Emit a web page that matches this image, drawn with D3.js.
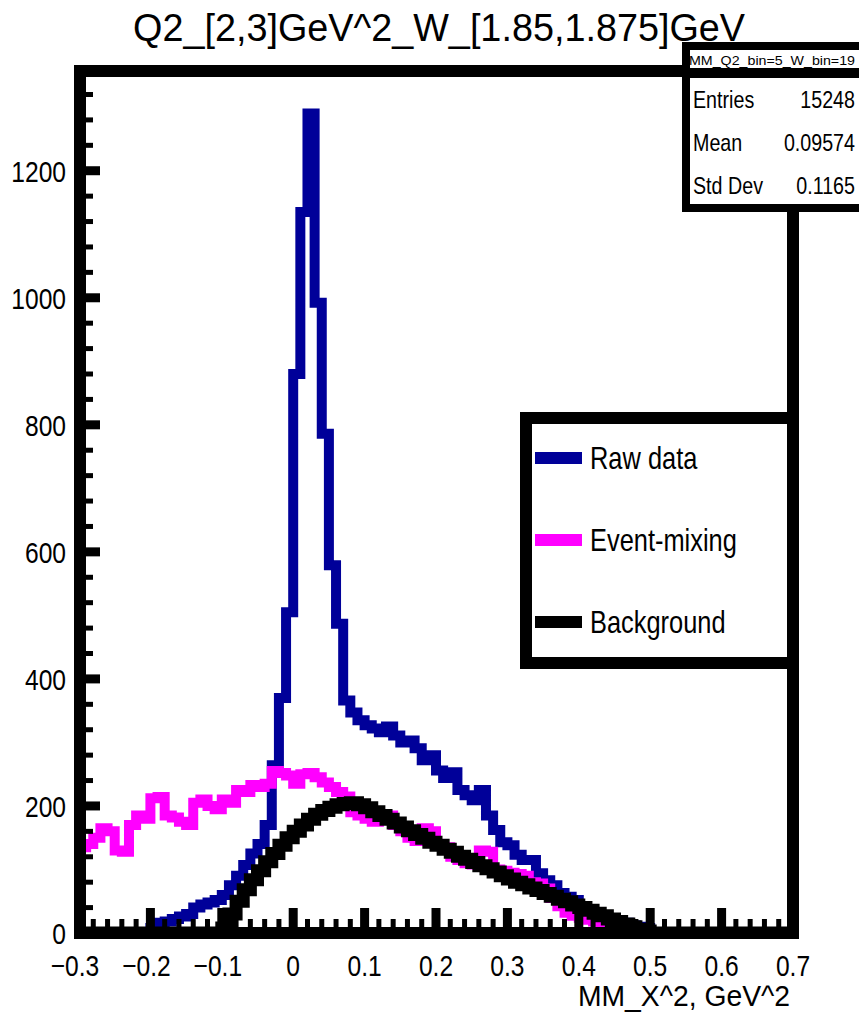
<!DOCTYPE html>
<html>
<head>
<meta charset="utf-8">
<script src="https://cdn.jsdelivr.net/npm/d3@7"></script>
<style>
  body { margin: 0; background: #fff; }
  svg { display: block; }
  text { font-family: "Liberation Sans", Arial, sans-serif; fill: #000; }
</style>
</head>
<body>
<div id="chart"></div>
<script>
// histogram binning: 100 bins of 0.01 from -0.3 to 0.7
const binLow = -0.3;
const binWidth = 0.01;

// Raw data (blue)
const rawData = [
  0, 0, 0, 0, 0, 0, 0, 0, 0, 0,
  8, 16, 18, 22, 26, 30, 40, 45, 48, 52,
  60, 75, 90, 107, 125, 140, 170, 264, 370, 505,
  880, 1135, 1290, 992, 786, 579, 487, 366, 347, 335,
  327, 322, 316, 325, 311, 300, 303, 291, 272, 280,
  256, 244, 253, 225, 217, 209, 225, 185, 162, 143,
  138, 123, 115, 115, 94, 83, 75, 63, 57, 52,
  42, 36, 31, 27, 22, 19, 16, 12, 10, 8,
  0, 0, 0, 0, 0, 0, 0, 0, 0, 0,
  0, 0, 0, 0, 0, 0, 0, 0, 0, 0
];

// Event-mixing (magenta)
const eventMixing = [
  135, 140, 150, 165, 160, 130, 128, 170, 185, 180,
  212, 214, 185, 182, 175, 170, 205, 210, 200, 195,
  210, 205, 225, 222, 233, 230, 235, 255, 252, 248,
  235, 250, 252, 245, 237, 230, 222, 215, 190, 185,
  180, 175, 182, 185, 170, 160, 150, 145, 165, 160,
  140, 135, 120, 115, 110, 108, 130, 128, 100, 98,
  95, 93, 90, 80, 78, 70, 55, 42, 32, 27,
  24, 21, 18, 15, 12, 10, 8, 6, 5, 4,
  1, 1, 1, 1, 1, 1, 1, 1, 1, 1,
  1, 1, 1, 1, 1, 1, 1, 1, 1, 1
];

// Background (black)
const background = [
  0, 0, 0, 0, 0, 0, 0, 0, 0, 0,
  0, 0, 0, 0, 0, 0, 0, 0, 0, 0,
  8, 30, 50, 68, 84, 98, 112, 125, 138, 150,
  160, 170, 179, 187, 193, 198, 202, 204, 205, 202,
  197, 191, 185, 179, 173, 167, 161, 155, 149, 143,
  138, 132, 127, 121, 116, 111, 106, 101, 96, 90,
  85, 80, 76, 71, 67, 62, 58, 53, 49, 44,
  40, 36, 31, 27, 22, 18, 14, 10, 6, 3,
  0, 0, 0, 0, 0, 0, 0, 0, 0, 0,
  0, 0, 0, 0, 0, 0, 0, 0, 0, 0
];

const xTicks = [-0.3, -0.2, -0.1, 0, 0.1, 0.2, 0.3, 0.4, 0.5, 0.6, 0.7];
const yTicks = [0, 200, 400, 600, 800, 1000, 1200];

const titleText = "Q2_[2,3]GeV^2_W_[1.85,1.875]GeV";
const xTitle = "MM_X^2, GeV^2";
const statsName = "MM_Q2_bin=5_W_bin=19";
const statsLabels = ["Entries", "Mean", "Std Dev"];
const statsValues = ["15248", "0.09574", "0.1165"];
const legendLabels = ["Raw data", "Event-mixing", "Background"];
const legendColors = ["#000099", "#ff00ff", "#000000"];

const W = 859, H = 1013;
const frame = { left: 80, right: 793, top: 71, bottom: 933 };
const narrow = 0.82; // the reference text is drawn in a condensed face

const svg = d3.select("#chart").append("svg")
  .attr("width", W).attr("height", H);

const x = d3.scaleLinear().domain([-0.3, 0.7]).range([frame.left - 1, frame.right]);
const y = d3.scaleLinear().domain([0, 1357]).range([frame.bottom, frame.top]);

// condensed text helper
function ctext(parent, tx, ty, str, size, anchor) {
  return parent.append("text")
    .attr("transform", `translate(${tx},${ty}) scale(${narrow},1)`)
    .attr("text-anchor", anchor || "start")
    .attr("font-size", size)
    .text(str);
}

svg.append("clipPath").attr("id", "plotclip")
  .append("rect")
  .attr("x", frame.left).attr("y", frame.top)
  .attr("width", frame.right - frame.left).attr("height", frame.bottom - frame.top + 4);

// histogram outline points
function histPoints(vals) {
  const pts = [];
  vals.forEach((v, i) => {
    const a = binLow + i * binWidth;
    pts.push([a, v], [a + binWidth, v]);
  });
  return pts;
}
const histLine = d3.line().x(d => x(d[0])).y(d => y(d[1]));

const plot = svg.append("g").attr("clip-path", "url(#plotclip)");
[[rawData, legendColors[0], 10], [eventMixing, legendColors[1], 10], [background, legendColors[2], 13]]
  .forEach(([vals, col, w]) => {
    plot.append("path")
      .attr("d", histLine(histPoints(vals)))
      .attr("fill", "none")
      .attr("stroke", col)
      .attr("stroke-width", w)
      .attr("stroke-linejoin", "miter");
  });

// frame
svg.append("rect")
  .attr("x", frame.left).attr("y", frame.top)
  .attr("width", frame.right - frame.left).attr("height", frame.bottom - frame.top)
  .attr("fill", "none").attr("stroke", "#000").attr("stroke-width", 12);

// x ticks (major 0.1, minor 0.02), drawn inside from bottom
const xMinor = d3.range(0, 51).map(i => -0.3 + i * 0.02);
svg.append("g").selectAll("line").data(xMinor).join("line")
  .attr("x1", d => x(d)).attr("x2", d => x(d))
  .attr("y1", frame.bottom).attr("y2", frame.bottom - 14)
  .attr("stroke", "#000").attr("stroke-width", 5);
svg.append("g").selectAll("line").data(xTicks).join("line")
  .attr("x1", d => x(d)).attr("x2", d => x(d))
  .attr("y1", frame.bottom).attr("y2", frame.bottom - 25)
  .attr("stroke", "#000").attr("stroke-width", 9);

// y ticks (major 200, minor 40)
const yMinor = d3.range(0, 34).map(i => i * 40);
svg.append("g").selectAll("line").data(yMinor).join("line")
  .attr("x1", frame.left).attr("x2", frame.left + 13)
  .attr("y1", d => y(d)).attr("y2", d => y(d))
  .attr("stroke", "#000").attr("stroke-width", 5);
svg.append("g").selectAll("line").data(yTicks).join("line")
  .attr("x1", frame.left).attr("x2", frame.left + 20)
  .attr("y1", d => y(d)).attr("y2", d => y(d))
  .attr("stroke", "#000").attr("stroke-width", 9);

// tick labels
const yLab = svg.append("g");
yTicks.forEach(d => ctext(yLab, 66, y(d) + 11, String(d), 30, "end"));
const xLab = svg.append("g");
xTicks.forEach(d => {
  const s = (d < 0 ? "\u2212" : "") + d3.format(".1f")(Math.abs(d)).replace(/^0\.0$/, "0");
  ctext(xLab, x(d) - (d < 0 ? 4 : 0), 976, s, 30, "middle");
});

// axis title
svg.append("text")
  .attr("x", 790).attr("y", 1006)
  .attr("text-anchor", "end").attr("font-size", 29)
  .attr("textLength", 212).attr("lengthAdjust", "spacingAndGlyphs")
  .text(xTitle);

// main title
svg.append("text")
  .attr("x", 439).attr("y", 41)
  .attr("text-anchor", "middle").attr("font-size", 38)
  .attr("textLength", 612).attr("lengthAdjust", "spacingAndGlyphs")
  .text(titleText);

// stats box
const sb = svg.append("g");
sb.append("rect")
  .attr("x", 686).attr("y", 46).attr("width", 190).attr("height", 162)
  .attr("fill", "#fff").attr("stroke", "#000").attr("stroke-width", 8);
sb.append("line")
  .attr("x1", 686).attr("x2", 876).attr("y1", 73).attr("y2", 73)
  .attr("stroke", "#000").attr("stroke-width", 10);
sb.append("text")
  .attr("x", 772).attr("y", 65).attr("text-anchor", "middle")
  .attr("font-size", 13).attr("textLength", 166).attr("lengthAdjust", "spacingAndGlyphs")
  .text(statsName);
statsLabels.forEach((lab, i) => ctext(sb, 693, 108 + i * 43, lab, 24, "start"));
statsValues.forEach((val, i) => ctext(sb, 855, 108 + i * 43, val, 24, "end"));

// legend
const lg = svg.append("g");
lg.append("rect")
  .attr("x", 526).attr("y", 418).attr("width", 267).attr("height", 245)
  .attr("fill", "#fff").attr("stroke", "#000").attr("stroke-width", 12);
legendLabels.forEach((lab, i) => {
  const cy = 458 + i * 82;
  lg.append("line")
    .attr("x1", 535).attr("x2", 582).attr("y1", cy).attr("y2", cy)
    .attr("stroke", legendColors[i]).attr("stroke-width", 12);
  ctext(lg, 590, cy + 11, lab, 31, "start");
});
</script>
</body>
</html>
